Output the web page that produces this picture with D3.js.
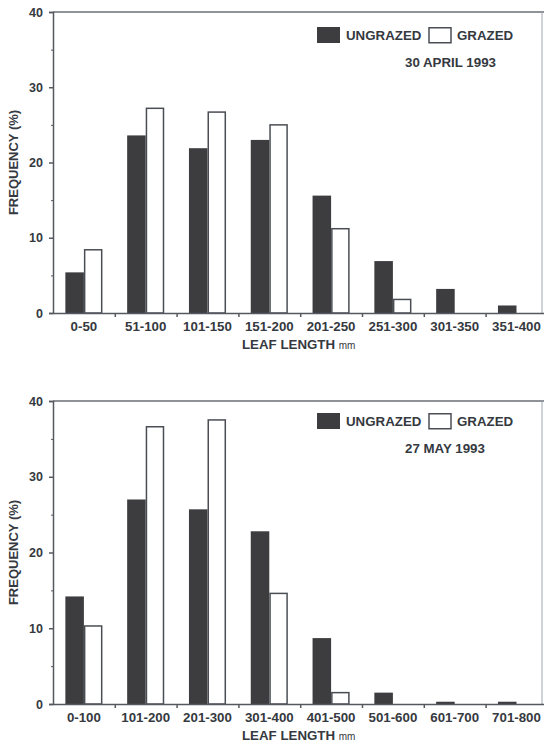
<!DOCTYPE html>
<html>
<head>
<meta charset="utf-8">
<script src="https://cdn.jsdelivr.net/npm/d3@7"></script>
<style>
  html, body { margin: 0; padding: 0; background: #fff; }
  svg { display: block; }
  text { font-family: "Liberation Sans", Arial, sans-serif; font-weight: bold; fill: #353940; }
</style>
</head>
<body>
<div id="chart"></div>
<script>
// ── DATA ─────────────────────────────────────
const aprilCats = ['0-50', '51-100', '101-150', '151-200', '201-250', '251-300', '301-350', '351-400'];
const aprilUngrazed = [5.4, 23.6, 21.9, 23.0, 15.6, 6.9, 3.2, 1.0];
const aprilGrazed = [8.4, 27.2, 26.7, 25.0, 11.2, 1.8, 0, 0];

const mayCats = ['0-100', '101-200', '201-300', '301-400', '401-500', '501-600', '601-700', '701-800'];
const mayUngrazed = [14.2, 27.0, 25.7, 22.8, 8.7, 1.5, 0.3, 0.3];
const mayGrazed = [10.3, 36.6, 37.5, 14.6, 1.5, 0, 0, 0];

const yTicks = [0, 10, 20, 30, 40];
const yMinor = [5, 15, 25, 35];
const seriesNames = ['UNGRAZED', 'GRAZED'];

const panels = [
  { cats: aprilCats, ungrazed: aprilUngrazed, grazed: aprilGrazed, date: '30 APRIL 1993', top: 12, bottom: 313, legY: 15 },
  { cats: mayCats, ungrazed: mayUngrazed, grazed: mayGrazed, date: '27 MAY 1993', top: 401, bottom: 704, legY: 12 }
];

// ── LAYOUT ───────────────────────────────────
const W = 544, H = 744;
const LEFT = 53;
const STEP = 61.8;
const DARK = '#3d3d40';
const LINE = '#55595f';
const FONT = '"Liberation Sans", Arial, sans-serif';

const svg = d3.select('#chart').append('svg')
  .attr('width', W).attr('height', H);

svg.append('rect').attr('width', W).attr('height', H).attr('fill', '#fff');

panels.forEach(p => drawPanel(p));

function styleText(sel, size) {
  sel.style('font-size', size + 'px')
    .style('font-family', FONT)
    .style('font-weight', 'bold')
    .attr('fill', '#353940');
}

function drawPanel(p) {
  const g = svg.append('g');
  const n = p.cats.length;

  const x = d3.scaleBand()
    .domain(p.cats)
    .range([LEFT, LEFT + n * STEP])
    .paddingInner(0.4)
    .paddingOuter(0.2);

  const sub = d3.scaleBand()
    .domain(seriesNames)
    .range([0, x.bandwidth()]);

  const y = d3.scaleLinear().domain([0, 40]).range([p.bottom, p.top]);

  const rows = p.cats.map((c, i) => ({ cat: c, UNGRAZED: p.ungrazed[i], GRAZED: p.grazed[i] }));

  // frame: top and right
  g.append('line')
    .attr('x1', LEFT).attr('x2', W)
    .attr('y1', y(40)).attr('y2', y(40))
    .attr('stroke', '#6a6e74').attr('stroke-width', 1.5);

  g.append('line')
    .attr('x1', 542).attr('x2', 542)
    .attr('y1', y(40)).attr('y2', y(0))
    .attr('stroke', '#9aa6b0').attr('stroke-width', 1);

  // bars
  const grp = g.selectAll('.grp')
    .data(rows)
    .enter().append('g')
    .attr('transform', d => `translate(${x(d.cat)},0)`);

  grp.selectAll('rect')
    .data(d => seriesNames.map(k => ({ key: k, value: d[k] })))
    .enter().append('rect')
    .filter(d => d.value > 0)
    .attr('x', d => sub(d.key) + (d.key === 'GRAZED' ? 0.75 : 0))
    .attr('y', d => y(d.value))
    .attr('width', d => sub.bandwidth() - (d.key === 'GRAZED' ? 1.5 : 0))
    .attr('height', d => y(0) - y(d.value))
    .attr('fill', d => d.key === 'UNGRAZED' ? DARK : '#fff')
    .attr('stroke', d => d.key === 'UNGRAZED' ? 'none' : '#4a4e54')
    .attr('stroke-width', 1.5);

  // y axis
  const yAxis = g.append('g')
    .attr('transform', `translate(${LEFT},0)`)
    .call(d3.axisLeft(y).tickValues(yTicks).tickSize(4).tickPadding(6));

  g.append('g')
    .attr('transform', `translate(${LEFT},0)`)
    .call(d3.axisLeft(y).tickValues(yMinor).tickSize(2).tickFormat(''))
    .call(a => a.select('.domain').remove())
    .selectAll('line').attr('stroke', LINE);

  yAxis.select('.domain').attr('stroke', LINE).attr('stroke-width', 1.5);
  yAxis.selectAll('line').attr('stroke', LINE).attr('stroke-width', 1.5);
  styleText(yAxis.selectAll('text'), 12.5);

  // x axis: boundary ticks
  const xb = d3.scaleLinear().domain([0, n]).range([LEFT, LEFT + n * STEP]);
  const xAxis = g.append('g')
    .attr('transform', `translate(0,${y(0)})`)
    .call(d3.axisBottom(xb).tickValues(d3.range(1, n)).tickSize(4).tickFormat('').tickSizeOuter(0));
  xAxis.select('.domain').attr('stroke', LINE).attr('stroke-width', 1.5);
  xAxis.selectAll('line').attr('stroke', LINE).attr('stroke-width', 1.5);

  // x labels
  const xLab = g.append('g')
    .attr('transform', `translate(0,${y(0)})`)
    .call(d3.axisBottom(x).tickSize(0).tickPadding(9));
  xLab.select('.domain').remove();
  styleText(xLab.selectAll('text'), 13.3);

  // axis titles
  const xt = g.append('text')
    .attr('x', 242)
    .attr('y', y(0) + 36)
    .attr('font-size', 13.3);
  xt.append('tspan').text('LEAF LENGTH ');
  xt.append('tspan').attr('font-size', 10).attr('font-weight', 'normal').text('mm');

  g.append('text')
    .attr('transform', 'rotate(-90)')
    .attr('x', -(p.top + p.bottom) / 2)
    .attr('y', 18)
    .attr('text-anchor', 'middle')
    .attr('font-size', 13)
    .text('FREQUENCY (%)');

  // legend
  const ly = p.top + p.legY;
  g.append('rect')
    .attr('x', 317).attr('y', ly)
    .attr('width', 23).attr('height', 16)
    .attr('fill', DARK);
  g.append('text')
    .attr('x', 346).attr('y', ly + 13)
    .attr('font-size', 13.3)
    .text(seriesNames[0]);
  g.append('rect')
    .attr('x', 429).attr('y', ly + 0.75)
    .attr('width', 22).attr('height', 15)
    .attr('fill', '#fff')
    .attr('stroke', '#4a4e54').attr('stroke-width', 1.5);
  g.append('text')
    .attr('x', 457).attr('y', ly + 13)
    .attr('font-size', 13.3)
    .text(seriesNames[1]);
  g.append('text')
    .attr('x', 405).attr('y', ly + 39.5)
    .attr('font-size', 13.3)
    .text(p.date);
}
</script>
</body>
</html>
